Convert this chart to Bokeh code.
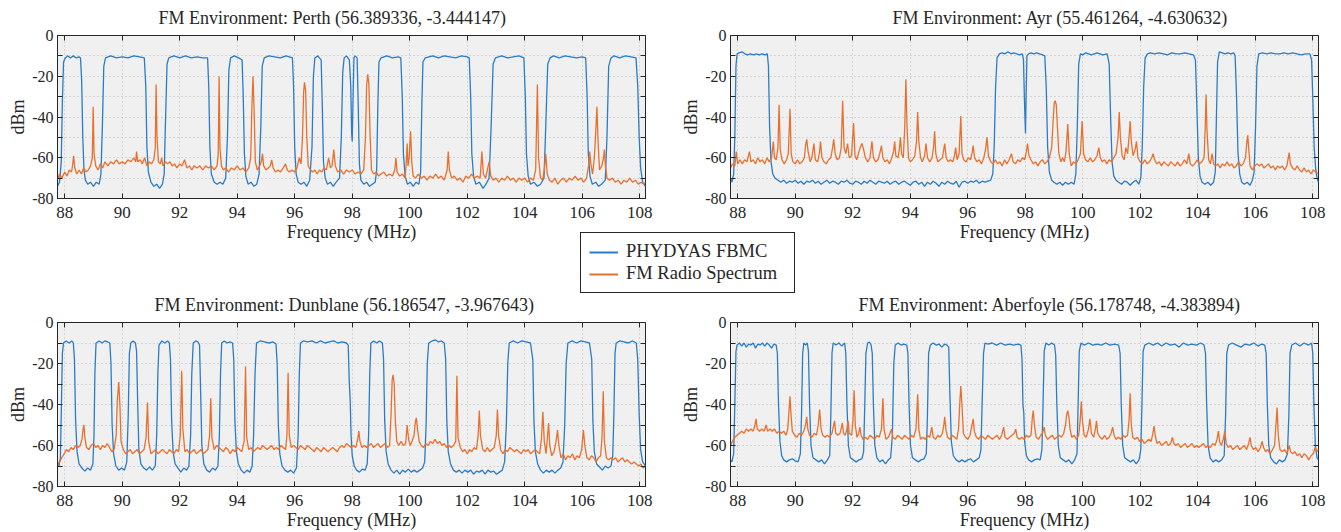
from bokeh.plotting import figure
from bokeh.models import (Range1d, FixedTicker, LinearAxis, Legend, LegendItem,
                          Title, GridBox)
from bokeh.embed import file_html
from bokeh.resources import INLINE

FONT = "Liberation Serif"
TXT = "#262626"
BLUE = "#2b7cc6"
ORANGE = "#e8702e"

freq_ticks = [88, 90, 92, 94, 96, 98, 100, 102, 104, 106, 108]
dbm_ticks = [-80, -60, -40, -20, 0]
dbm_minor = [-70, -50, -30, -10]
dbm_labels = {-80: "-80", -60: "-60", -40: "-40", -20: "-20", 0: "0"}
series_names = ["PHYDYAS FBMC", "FM Radio Spectrum"]
titles = ["FM Environment: Perth (56.389336, -3.444147)",
          "FM Environment: Ayr (55.461264, -4.630632)",
          "FM Environment: Dunblane (56.186547, -3.967643)",
          "FM Environment: Aberfoyle (56.178748, -4.383894)"]

# ---------------- Perth ----------------
perth_fbmc = [(87.75,-74),(87.82,-72),(87.88,-62),(87.92,-32),(87.96,-13),(88.02,-11),(88.1,-10),(88.2,-11),(88.3,-10),(88.4,-11),(88.5,-10.5),(88.55,-11),
(88.59,-22),(88.63,-50),(88.67,-66),(88.72,-71),(88.8,-73),(88.9,-72),(89.0,-74),(89.1,-72),(89.2,-73),(89.26,-68),(89.31,-45),(89.36,-15),(89.42,-11),
(89.6,-10),(89.8,-11),(90.0,-10.5),(90.2,-11),(90.4,-10),(90.6,-10.5),(90.77,-11),(90.82,-25),(90.86,-55),(90.91,-67),(91.0,-72),(91.1,-74),(91.2,-73),
(91.3,-75),(91.4,-73),(91.46,-68),(91.51,-40),(91.56,-14),(91.62,-11),(91.8,-10),(92.0,-11),(92.2,-10),(92.4,-11),(92.6,-10.5),(92.8,-11),(92.97,-11),
(93.01,-25),(93.05,-55),(93.1,-68),(93.2,-72),(93.3,-73),(93.4,-72),(93.5,-73),(93.6,-70),(93.66,-50),(93.71,-17),(93.77,-11),(93.9,-10),(94.05,-11),
(94.17,-12),(94.21,-30),(94.25,-58),(94.3,-69),(94.38,-73),(94.48,-72),(94.58,-74),(94.68,-73),(94.76,-68),(94.82,-45),(94.87,-15),(94.94,-11),(95.1,-10),
(95.3,-10.5),(95.5,-11),(95.7,-10),(95.92,-11),(95.96,-25),(96.0,-55),(96.05,-68),(96.12,-72),(96.22,-73),(96.32,-72),(96.42,-74),(96.52,-71),(96.6,-55),
(96.65,-20),(96.7,-11),(96.8,-10),(96.92,-12),(96.96,-35),(97.0,-62),(97.06,-70),(97.14,-73),(97.24,-72),(97.34,-74),(97.44,-72),(97.56,-70),(97.62,-50),
(97.67,-18),(97.72,-11),(97.8,-10),(97.9,-12),(97.95,-25),(97.98,-48),(98.0,-52),(98.03,-30),(98.06,-11),(98.1,-10),(98.17,-11),(98.21,-35),(98.25,-63),
(98.3,-71),(98.4,-73),(98.5,-72),(98.6,-74),(98.7,-73),(98.8,-72),(98.85,-66),(98.89,-35),(98.93,-13),(99.0,-11),(99.2,-10),(99.4,-11),(99.6,-10.5),
(99.69,-11),(99.74,-30),(99.78,-58),(99.84,-69),(99.92,-73),(100.02,-72),(100.12,-74),(100.22,-72),(100.32,-73),(100.38,-67),(100.42,-35),(100.46,-13),
(100.54,-11),(100.8,-10),(101.0,-11),(101.2,-10),(101.4,-10.5),(101.6,-11),(101.8,-10),(102.0,-10.5),(102.07,-11),(102.12,-30),(102.16,-58),(102.22,-69),
(102.3,-73),(102.42,-72),(102.55,-75),(102.65,-73),(102.76,-70),(102.83,-45),(102.9,-14),(102.98,-11),(103.2,-10),(103.4,-11),(103.6,-10.5),(103.8,-10),
(103.97,-11),(104.02,-30),(104.06,-58),(104.12,-69),(104.2,-73),(104.32,-72),(104.44,-74),(104.55,-73),(104.67,-70),(104.73,-45),(104.8,-14),(104.88,-11),
(105.0,-10),(105.2,-11),(105.4,-10),(105.6,-10.5),(105.8,-11),(106.0,-10.5),(106.12,-11),(106.17,-30),(106.21,-58),(106.27,-69),(106.35,-73),(106.47,-72),
(106.57,-74),(106.67,-73),(106.8,-71),(106.86,-50),(106.92,-15),(107.0,-11),(107.1,-10),(107.3,-11),(107.5,-10),(107.7,-10.5),(107.87,-11),(107.93,-25),
(107.98,-50),(108.03,-65),(108.1,-72),(108.2,-74)]

perth_fm = [(87.75,-71),(87.82,-68),(87.9,-70),(88.0,-67),(88.08,-69),(88.16,-66),(88.24,-67),(88.28,-63),(88.31,-59),(88.35,-65),(88.42,-68),(88.5,-66),
(88.58,-68),(88.66,-65),(88.74,-67),(88.82,-66),(88.9,-64),(88.96,-60),(88.99,-35),(89.02,-58),(89.08,-64),(89.16,-66),(89.24,-63),(89.32,-65),(89.4,-62),
(89.5,-64),(89.6,-62),(89.7,-63),(89.8,-61),(89.9,-63),(90.0,-62),(90.1,-63),(90.2,-61),(90.3,-62),(90.4,-60),(90.47,-62),(90.5,-57),(90.54,-62),(90.62,-61),
(90.7,-63),(90.78,-60),(90.86,-64),(90.94,-62),(91.02,-63),(91.1,-61),(91.15,-55),(91.18,-24),(91.21,-50),(91.26,-62),(91.33,-63),(91.37,-60),(91.42,-64),
(91.5,-62),(91.58,-63),(91.66,-62),(91.74,-64),(91.82,-63),(91.9,-65),(92.0,-63),(92.08,-64),(92.17,-61),(92.25,-65),(92.34,-64),(92.42,-66),(92.5,-64),
(92.6,-65),(92.7,-64),(92.8,-66),(92.9,-64),(93.0,-65),(93.1,-64),(93.2,-66),(93.3,-64),(93.34,-58),(93.37,-20),(93.4,-55),(93.45,-64),(93.52,-66),
(93.6,-65),(93.7,-67),(93.8,-65),(93.9,-66),(94.0,-64),(94.1,-66),(94.2,-65),(94.3,-67),(94.4,-65),(94.47,-60),(94.51,-35),(94.55,-20),(94.59,-38),
(94.63,-62),(94.7,-66),(94.78,-64),(94.84,-62),(94.88,-58),(94.92,-64),(95.0,-66),(95.08,-65),(95.15,-64),(95.2,-61),(95.25,-65),(95.33,-67),(95.42,-66),
(95.5,-67),(95.6,-65),(95.68,-63),(95.74,-66),(95.82,-67),(95.9,-66),(96.0,-67),(96.08,-65),(96.16,-60),(96.22,-63),(96.27,-50),(96.31,-28),(96.34,-23),
(96.38,-27),(96.42,-50),(96.47,-64),(96.55,-66),(96.62,-67),(96.7,-66),(96.78,-68),(96.86,-66),(96.94,-67),(97.02,-65),(97.1,-66),(97.18,-60),(97.24,-65),
(97.3,-64),(97.36,-56),(97.41,-64),(97.5,-67),(97.6,-66),(97.7,-68),(97.8,-66),(97.9,-67),(98.0,-66),(98.1,-68),(98.2,-67),(98.3,-68),(98.4,-66),
(98.46,-50),(98.5,-25),(98.54,-19),(98.58,-24),(98.62,-48),(98.67,-66),(98.75,-68),(98.84,-67),(98.92,-69),(99.0,-68),(99.1,-67),(99.2,-69),(99.3,-68),
(99.4,-69),(99.48,-66),(99.52,-60),(99.56,-67),(99.65,-69),(99.75,-68),(99.84,-70),(99.88,-62),(99.91,-53),(99.94,-64),(99.98,-60),(100.03,-47),
(100.07,-62),(100.12,-69),(100.2,-70),(100.3,-68),(100.4,-70),(100.5,-69),(100.6,-71),(100.7,-69),(100.8,-70),(100.9,-68),(101.0,-70),(101.1,-69),
(101.2,-71),(101.3,-66),(101.34,-57),(101.38,-66),(101.46,-70),(101.55,-69),(101.65,-71),(101.75,-70),(101.85,-72),(101.95,-69),(102.05,-70),(102.15,-68),
(102.25,-70),(102.35,-69),(102.45,-70),(102.51,-57),(102.56,-68),(102.64,-70),(102.7,-66),(102.76,-62),(102.82,-69),(102.9,-71),(103.0,-70),(103.1,-72),
(103.2,-70),(103.3,-71),(103.4,-69),(103.5,-71),(103.6,-70),(103.7,-72),(103.8,-70),(103.9,-71),(104.0,-70),(104.1,-72),(104.2,-70),(104.3,-71),
(104.38,-66),(104.44,-24),(104.48,-60),(104.55,-70),(104.62,-71),(104.68,-66),(104.73,-58),(104.78,-68),(104.86,-71),(104.95,-72),(105.05,-70),
(105.15,-73),(105.25,-71),(105.35,-70),(105.45,-72),(105.55,-70),(105.65,-71),(105.75,-69),(105.85,-71),(105.95,-70),(106.05,-72),(106.15,-70),
(106.22,-64),(106.26,-57),(106.3,-63),(106.36,-68),(106.42,-60),(106.46,-50),(106.51,-35),(106.55,-52),(106.6,-66),(106.68,-64),(106.74,-60),(106.77,-56),
(106.8,-63),(106.86,-70),(106.95,-71),(107.05,-70),(107.15,-72),(107.25,-71),(107.35,-73),(107.45,-71),(107.55,-72),(107.65,-70),(107.75,-72),
(107.85,-71),(107.95,-73),(108.05,-72),(108.15,-73),(108.2,-72)]

# ---------------- Ayr ----------------
ayr_fbmc = [(87.75,-70),(87.8,-72),(87.86,-68),(87.9,-50),(87.94,-15),(87.98,-9),(88.05,-8.5),(88.15,-8),(88.25,-9),(88.35,-9.5),(88.45,-9),(88.55,-9.5),
(88.65,-9),(88.75,-9.5),(88.85,-9),(88.95,-9.5),(89.03,-9),(89.07,-15),(89.11,-45),(89.16,-62),(89.22,-68),(89.3,-70),(89.4,-71),(89.5,-72),(89.6,-71),
(89.7,-72.5),(89.8,-71.5),(89.9,-72),(90.0,-71),(90.1,-72.5),(90.2,-71.5),(90.3,-73),(90.4,-71.5),(90.5,-72),(90.6,-71),(90.7,-72.5),(90.8,-71.5),
(90.9,-73),(91.0,-72),(91.1,-71),(91.2,-72.5),(91.3,-71.5),(91.4,-72),(91.5,-73),(91.6,-71.5),(91.7,-72),(91.8,-71),(91.9,-72.5),(92.0,-73),(92.1,-71.5),
(92.2,-72),(92.3,-73),(92.4,-71.5),(92.5,-72.5),(92.6,-71),(92.7,-72),(92.8,-73),(92.9,-71.5),(93.0,-72),(93.1,-72.5),(93.2,-71.5),(93.3,-73),(93.4,-72),
(93.5,-71.5),(93.6,-73),(93.7,-72),(93.8,-71.5),(93.9,-72.5),(94.0,-73.5),(94.1,-72),(94.2,-71.5),(94.3,-73),(94.4,-72),(94.5,-74),(94.6,-72),(94.7,-73),
(94.8,-71.5),(94.9,-72.5),(95.0,-74),(95.1,-72),(95.2,-73),(95.3,-71.5),(95.4,-72.5),(95.5,-73),(95.6,-71.5),(95.7,-74.5),(95.8,-72),(95.9,-71.5),
(96.0,-72.5),(96.1,-71.5),(96.2,-72),(96.3,-71),(96.4,-72.5),(96.5,-71.5),(96.6,-72),(96.7,-71.5),(96.8,-71),(96.87,-68),(96.92,-55),(96.97,-25),
(97.02,-11),(97.1,-9),(97.2,-8.5),(97.3,-9),(97.4,-8),(97.5,-9),(97.6,-8.5),(97.7,-9),(97.8,-9.5),(97.9,-9),(97.94,-12),(97.97,-30),(97.99,-40),
(98.01,-48),(98.03,-30),(98.06,-10),(98.12,-9),(98.2,-8.5),(98.3,-9),(98.4,-8.5),(98.5,-9),(98.6,-9.5),(98.68,-10),(98.73,-25),(98.78,-55),(98.84,-67),
(98.92,-71),(99.0,-72),(99.1,-73),(99.2,-72),(99.3,-73.5),(99.4,-72),(99.5,-73),(99.6,-72),(99.7,-73),(99.76,-68),(99.81,-45),(99.86,-14),(99.92,-9),
(100.0,-9.5),(100.1,-8.5),(100.2,-9),(100.3,-9.5),(100.4,-9),(100.5,-8.5),(100.6,-9),(100.7,-9.5),(100.85,-9),(100.92,-14),(100.97,-40),(101.02,-62),
(101.08,-69),(101.16,-71),(101.25,-72),(101.35,-73),(101.45,-71.5),(101.55,-72),(101.65,-73.5),(101.75,-72),(101.85,-71),(101.95,-73),(102.02,-70),
(102.07,-55),(102.12,-25),(102.17,-11),(102.25,-9),(102.35,-8.5),(102.5,-9),(102.65,-8.5),(102.8,-9),(102.95,-9.5),(103.1,-8.5),(103.25,-9),(103.4,-9),
(103.55,-8.5),(103.7,-9),(103.85,-9.5),(103.92,-12),(103.97,-35),(104.02,-60),(104.08,-69),(104.15,-72),(104.25,-73),(104.35,-72),(104.45,-73.5),
(104.55,-72),(104.61,-67),(104.65,-40),(104.69,-13),(104.75,-8),(104.85,-8.5),(104.95,-9),(105.05,-8.5),(105.15,-9),(105.25,-8.5),(105.3,-10),(105.35,-30),
(105.4,-58),(105.46,-68),(105.53,-72),(105.62,-73),(105.72,-72),(105.82,-73.5),(105.9,-71),(105.96,-67),(106.01,-45),(106.06,-15),(106.12,-9),(106.25,-8.5),
(106.4,-9),(106.55,-8.5),(106.7,-9),(106.85,-9),(107.0,-8.5),(107.15,-9),(107.3,-8.5),(107.45,-9),(107.6,-9.5),(107.75,-9),(107.9,-9),(107.96,-12),
(108.0,-30),(108.05,-55),(108.1,-65),(108.15,-70),(108.2,-72)]

ayr_fm = [(87.75,-65),(87.82,-63),(87.9,-64),(87.95,-57),(88.0,-63),(88.08,-61),(88.16,-63),(88.24,-61),(88.32,-62),(88.41,-57),(88.46,-62),(88.54,-61),
(88.62,-63),(88.7,-60),(88.78,-62),(88.86,-61),(88.94,-63),(89.02,-60),(89.1,-62),(89.18,-60),(89.24,-52),(89.28,-60),(89.34,-61),(89.4,-55),(89.44,-34),
(89.48,-56),(89.54,-61),(89.62,-63),(89.7,-61),(89.76,-58),(89.82,-36),(89.86,-58),(89.92,-62),(90.0,-63),(90.08,-61),(90.16,-63),(90.24,-62),(90.32,-60),
(90.36,-54),(90.4,-51),(90.45,-57),(90.52,-62),(90.58,-60),(90.65,-53),(90.7,-61),(90.78,-62),(90.84,-58),(90.88,-52),(90.93,-60),(91.0,-62),(91.08,-63),
(91.16,-61),(91.24,-60),(91.3,-55),(91.34,-51),(91.39,-58),(91.46,-61),(91.54,-60),(91.6,-55),(91.65,-32),(91.7,-55),(91.76,-58),(91.82,-53),(91.88,-60),
(91.96,-59),(92.03,-43),(92.08,-59),(92.14,-61),(92.2,-58),(92.26,-55),(92.32,-53),(92.38,-56),(92.44,-60),(92.52,-62),(92.6,-60),(92.67,-52),(92.72,-60),
(92.8,-62),(92.88,-61),(92.94,-58),(93.0,-54),(93.05,-60),(93.12,-62),(93.2,-61),(93.28,-63),(93.36,-60),(93.42,-57),(93.46,-52),(93.5,-59),(93.58,-60),
(93.62,-56),(93.66,-50),(93.7,-58),(93.76,-60),(93.81,-45),(93.85,-21.5),(93.89,-45),(93.94,-60),(94.0,-62),(94.08,-61),(94.16,-59),(94.22,-52),
(94.26,-37.5),(94.3,-52),(94.36,-60),(94.42,-62),(94.5,-59),(94.55,-53),(94.6,-60),(94.68,-62),(94.76,-60),(94.81,-55),(94.85,-47),(94.89,-58),(94.96,-62),
(95.04,-61),(95.12,-60),(95.2,-53),(95.25,-60),(95.32,-62),(95.4,-61),(95.48,-62),(95.54,-59),(95.58,-55),(95.63,-61),(95.7,-58),(95.76,-39.5),(95.8,-58),
(95.86,-61),(95.94,-62),(96.02,-60),(96.1,-61),(96.16,-57),(96.19,-54),(96.24,-60),(96.32,-62),(96.4,-61),(96.48,-63),(96.56,-60),(96.62,-56),(96.67,-50),
(96.72,-59),(96.8,-62),(96.88,-63),(96.96,-61),(97.04,-63),(97.12,-62),(97.2,-64),(97.28,-61),(97.36,-63),(97.44,-61),(97.52,-58),(97.58,-62),(97.66,-63),
(97.74,-61),(97.82,-62),(97.9,-60),(97.98,-61),(98.04,-57),(98.08,-53),(98.13,-59),(98.2,-61),(98.28,-63),(98.36,-62),(98.44,-64),(98.52,-62),(98.6,-61),
(98.68,-63),(98.76,-62),(98.84,-60),(98.92,-55),(98.97,-42),(99.01,-33),(99.04,-32),(99.08,-34),(99.12,-45),(99.17,-58),(99.24,-62),(99.3,-60),(99.36,-62),
(99.42,-57),(99.48,-43.5),(99.53,-58),(99.6,-64),(99.68,-62),(99.76,-63),(99.84,-61),(99.92,-58),(99.98,-42),(100.03,-58),(100.1,-61),(100.18,-62),
(100.26,-60),(100.34,-62),(100.42,-61),(100.5,-59),(100.56,-55),(100.61,-60),(100.68,-62),(100.76,-61),(100.84,-63),(100.92,-61),(101.0,-62),(101.08,-60),
(101.16,-58),(101.23,-50),(101.27,-37.5),(101.31,-50),(101.37,-59),(101.44,-61),(101.5,-55),(101.56,-58),(101.61,-50),(101.65,-42),(101.69,-52),
(101.75,-59),(101.82,-56),(101.87,-52),(101.92,-60),(102.0,-62),(102.08,-63),(102.16,-61),(102.24,-63),(102.32,-62),(102.4,-60),(102.45,-58),(102.5,-61),
(102.58,-63),(102.66,-62),(102.74,-64),(102.82,-62),(102.9,-63),(102.98,-64),(103.06,-62),(103.14,-63),(103.22,-64),(103.3,-62),(103.38,-64),(103.46,-63),
(103.54,-61),(103.62,-63),(103.69,-58),(103.74,-63),(103.82,-64),(103.9,-63),(103.98,-61),(104.06,-63),(104.14,-62),(104.22,-60),(104.26,-45),(104.29,-29),
(104.32,-46),(104.38,-61),(104.44,-63),(104.5,-58),(104.55,-63),(104.62,-64),(104.7,-63),(104.78,-65),(104.86,-63),(104.94,-64),(105.02,-62),(105.1,-64),
(105.18,-63),(105.26,-65),(105.34,-64),(105.42,-62),(105.5,-64),(105.58,-63),(105.66,-60),(105.71,-52),(105.74,-49),(105.77,-55),(105.82,-64),(105.9,-66),
(105.98,-64),(106.06,-63),(106.14,-64),(106.22,-63),(106.3,-65),(106.38,-64),(106.46,-63),(106.54,-65),(106.62,-64),(106.7,-66),(106.78,-64),(106.86,-65),
(106.94,-64),(107.02,-66),(107.1,-64),(107.18,-57.5),(107.22,-63),(107.3,-65),(107.38,-66),(107.46,-64),(107.54,-66),(107.62,-67),(107.7,-65),(107.78,-67),
(107.86,-66),(107.94,-68),(108.02,-66),(108.1,-67),(108.2,-68)]

# ---------------- Dunblane ----------------
dunblane_fbmc = [(87.75,-68),(87.8,-70),(87.85,-66),(87.88,-45),(87.92,-15),(87.96,-10),(88.05,-9),(88.15,-10),(88.25,-9),(88.3,-10),(88.34,-18),(88.38,-48),
(88.43,-63),(88.5,-69),(88.6,-71),(88.7,-72.5),(88.8,-71),(88.9,-72),(88.98,-69),(89.02,-55),(89.05,-25),(89.09,-10),(89.2,-9),(89.3,-10),(89.4,-9),
(89.5,-9.5),(89.57,-10),(89.61,-20),(89.65,-50),(89.7,-64),(89.78,-70),(89.88,-72),(89.98,-71),(90.08,-72),(90.16,-68),(90.21,-45),(90.25,-15),(90.3,-10),
(90.38,-9),(90.46,-10),(90.5,-14),(90.54,-40),(90.58,-62),(90.65,-69),(90.75,-71),(90.85,-72),(90.95,-70.5),(91.05,-72),(91.15,-70),(91.2,-55),(91.24,-25),
(91.28,-11),(91.38,-9),(91.48,-10),(91.58,-9),(91.64,-10),(91.68,-18),(91.72,-48),(91.77,-63),(91.84,-69),(91.94,-71),(92.04,-73),(92.14,-71),(92.24,-72),
(92.32,-70),(92.38,-55),(92.42,-25),(92.47,-10),(92.56,-9),(92.64,-9.5),(92.69,-11),(92.73,-35),(92.77,-60),(92.84,-69),(92.94,-72),(93.04,-73),(93.14,-71),
(93.24,-72),(93.33,-70),(93.38,-55),(93.42,-25),(93.46,-10),(93.55,-9),(93.65,-10),(93.75,-9.5),(93.84,-10),(93.88,-18),(93.92,-48),(93.97,-63),(94.04,-69),
(94.14,-72),(94.24,-73.5),(94.34,-72),(94.44,-73),(94.52,-70),(94.57,-55),(94.62,-25),(94.67,-10),(94.8,-9),(94.95,-9.5),(95.1,-10),(95.25,-9.5),
(95.35,-10.5),(95.39,-20),(95.43,-50),(95.48,-64),(95.56,-70),(95.66,-72),(95.76,-73),(95.86,-72),(95.96,-73.5),(96.06,-71),(96.12,-55),(96.16,-25),
(96.2,-10),(96.3,-9),(96.45,-9.5),(96.6,-9),(96.75,-10),(96.9,-9),(97.05,-10),(97.2,-9.5),(97.35,-9),(97.5,-10),(97.65,-9.5),(97.8,-10),(97.86,-11),
(97.9,-30),(97.93,-38),(97.96,-55),(98.0,-65),(98.07,-70),(98.15,-72),(98.25,-73),(98.35,-71.5),(98.45,-72),(98.52,-69),(98.57,-55),(98.61,-25),(98.65,-10),
(98.75,-9),(98.85,-10),(98.95,-9),(99.05,-10),(99.09,-18),(99.13,-48),(99.18,-63),(99.25,-69),(99.35,-72),(99.45,-73.5),(99.55,-72),(99.65,-74),(99.75,-72),
(99.85,-73),(99.95,-71.5),(100.05,-73),(100.15,-72),(100.25,-73),(100.35,-72),(100.45,-71),(100.52,-68),(100.57,-50),(100.61,-20),(100.66,-10),(100.78,-9),
(100.9,-8.5),(101.0,-9.5),(101.1,-9),(101.2,-10),(101.25,-18),(101.29,-48),(101.34,-63),(101.42,-69),(101.52,-72),(101.62,-73),(101.72,-72),(101.82,-73.5),
(101.92,-72),(102.02,-73),(102.12,-72),(102.22,-74),(102.32,-72.5),(102.42,-73),(102.52,-72),(102.62,-74),(102.72,-72),(102.82,-73),(102.92,-72.5),
(103.02,-74),(103.12,-73),(103.22,-72),(103.3,-68),(103.36,-50),(103.41,-20),(103.46,-10),(103.6,-9),(103.75,-10),(103.9,-9),(104.05,-9.5),(104.2,-10),
(104.28,-18),(104.32,-48),(104.37,-63),(104.45,-69),(104.55,-72),(104.65,-73.5),(104.75,-72),(104.85,-73),(104.95,-72),(105.05,-73.5),(105.15,-72),
(105.25,-71),(105.33,-68),(105.39,-50),(105.44,-20),(105.5,-10),(105.65,-9),(105.8,-10),(105.95,-9),(106.1,-9.5),(106.25,-10),(106.33,-18),(106.37,-48),
(106.42,-63),(106.5,-69),(106.6,-70.5),(106.7,-72),(106.8,-70),(106.9,-71),(107.0,-70),(107.06,-65),(107.1,-45),(107.14,-15),(107.18,-10),(107.3,-9),
(107.45,-9.5),(107.6,-10),(107.75,-9),(107.88,-10),(107.93,-18),(107.98,-45),(108.03,-62),(108.1,-68),(108.2,-70)]

dunblane_fm = [(87.75,-70),(87.82,-68),(87.9,-66),(87.98,-64),(88.06,-62),(88.14,-63),(88.22,-61),(88.3,-62),(88.38,-60),(88.46,-61),(88.54,-60),(88.6,-57),
(88.64,-52),(88.67,-50),(88.7,-56),(88.76,-61),(88.84,-62),(88.92,-60),(89.0,-59),(89.08,-61),(89.16,-60),(89.24,-62),(89.32,-60),(89.4,-61),(89.48,-59),
(89.56,-61),(89.64,-63),(89.72,-62),(89.79,-55),(89.83,-38),(89.88,-29),(89.92,-40),(89.96,-58),(90.04,-62),(90.12,-64),(90.2,-63),(90.28,-62),(90.36,-64),
(90.44,-63),(90.52,-62),(90.6,-64),(90.68,-63),(90.76,-62),(90.83,-56),(90.88,-39),(90.92,-58),(91.0,-64),(91.08,-63),(91.16,-62),(91.24,-64),(91.32,-63),
(91.4,-62),(91.48,-63),(91.56,-64),(91.64,-62),(91.72,-63),(91.8,-64),(91.88,-62),(91.96,-63),(92.02,-55),(92.07,-23.5),(92.11,-52),(92.18,-63),(92.26,-62),
(92.34,-64),(92.42,-63),(92.5,-62),(92.58,-64),(92.66,-63),(92.74,-62),(92.82,-64),(92.9,-63),(92.98,-62),(93.04,-55),(93.08,-37),(93.12,-56),(93.2,-62),
(93.28,-60),(93.36,-61),(93.44,-62),(93.52,-63),(93.6,-61),(93.68,-62),(93.76,-64),(93.84,-62),(93.92,-63),(94.0,-61),(94.08,-62),(94.16,-63),(94.24,-58),
(94.29,-21.5),(94.33,-56),(94.4,-62),(94.48,-61),(94.56,-63),(94.64,-62),(94.72,-61),(94.8,-62),(94.88,-60),(94.96,-61),(95.04,-62),(95.12,-61),(95.2,-60),
(95.28,-62),(95.36,-61),(95.44,-62),(95.52,-60),(95.6,-61),(95.68,-62),(95.73,-55),(95.77,-24.5),(95.81,-55),(95.88,-61),(95.96,-60),(96.04,-61),(96.12,-62),
(96.2,-60),(96.28,-61),(96.36,-62),(96.44,-60),(96.52,-61),(96.6,-62),(96.68,-63),(96.76,-61),(96.84,-62),(96.92,-63),(97.0,-61),(97.08,-62),(97.16,-63),
(97.24,-62),(97.32,-61),(97.4,-62),(97.48,-63),(97.56,-61),(97.64,-60),(97.72,-61),(97.8,-59),(97.88,-60),(97.96,-61),(98.04,-60),(98.12,-61),(98.19,-57),
(98.23,-53),(98.27,-58),(98.34,-61),(98.42,-60),(98.5,-61),(98.58,-60),(98.66,-59),(98.74,-61),(98.82,-60),(98.9,-59),(98.98,-61),(99.06,-60),(99.14,-59),
(99.22,-61),(99.3,-60),(99.35,-45),(99.39,-28),(99.42,-25.5),(99.46,-30),(99.5,-48),(99.55,-58),(99.62,-60),(99.7,-58),(99.78,-60),(99.86,-59),(99.91,-50),
(99.96,-57),(100.02,-60),(100.08,-58),(100.15,-55),(100.2,-48),(100.23,-46.5),(100.27,-52),(100.33,-58),(100.4,-60),(100.48,-61),(100.56,-59),(100.64,-60),
(100.72,-58),(100.8,-59),(100.88,-57),(100.96,-59),(101.04,-58),(101.12,-60),(101.2,-59),(101.28,-61),(101.36,-60),(101.44,-61),(101.52,-60),(101.6,-58),
(101.64,-26),(101.68,-56),(101.76,-61),(101.84,-63),(101.92,-62),(102.0,-64),(102.08,-62),(102.16,-63),(102.24,-61),(102.32,-62),(102.38,-55),(102.42,-43),
(102.46,-55),(102.54,-62),(102.62,-63),(102.7,-61),(102.78,-63),(102.86,-62),(102.94,-61),(103.01,-55),(103.05,-42.5),(103.09,-55),(103.16,-62),(103.24,-64),
(103.32,-62),(103.4,-63),(103.48,-61),(103.56,-62),(103.64,-63),(103.72,-62),(103.8,-63),(103.88,-64),(103.96,-62),(104.04,-63),(104.12,-62),(104.2,-64),
(104.28,-63),(104.36,-62),(104.44,-63),(104.52,-64),(104.58,-57),(104.63,-43.5),(104.68,-58),(104.74,-64),(104.79,-56),(104.83,-49),(104.87,-60),
(104.94,-65),(105.02,-63),(105.09,-58),(105.14,-52.5),(105.19,-60),(105.26,-66),(105.34,-64),(105.42,-67),(105.5,-65),(105.58,-66),(105.66,-64),
(105.74,-67),(105.82,-65),(105.9,-66),(105.98,-62),(106.04,-52.5),(106.09,-60),(106.16,-66),(106.24,-67),(106.32,-65),(106.4,-66),(106.48,-68),(106.56,-66),
(106.64,-65),(106.69,-55),(106.73,-33.5),(106.77,-58),(106.84,-66),(106.92,-67),(107.0,-66),(107.08,-67),(107.16,-66),(107.24,-68),(107.32,-67),(107.4,-66),
(107.48,-68),(107.56,-67),(107.64,-68),(107.72,-69),(107.8,-68),(107.88,-69),(107.96,-70),(108.04,-69),(108.12,-71),(108.2,-70)]

# ---------------- Aberfoyle ----------------
aberfoyle_fbmc = [(87.75,-67),(87.8,-68),(87.86,-64),(87.9,-40),(87.94,-14),(87.98,-11),(88.06,-10),(88.14,-11.5),(88.22,-10),(88.3,-12),(88.38,-10.5),
(88.46,-11),(88.54,-10),(88.62,-12.5),(88.7,-10.5),(88.78,-11),(88.86,-10),(88.94,-11.5),(89.02,-10),(89.1,-11),(89.18,-12.5),(89.26,-10.5),(89.34,-11),
(89.38,-15),(89.42,-40),(89.47,-58),(89.53,-65),(89.6,-67),(89.7,-68),(89.8,-67),(89.9,-66.5),(90.0,-67.5),(90.1,-68),(90.18,-64),(90.22,-45),(90.26,-15),
(90.3,-10),(90.36,-11),(90.42,-10),(90.46,-14),(90.5,-40),(90.55,-60),(90.62,-66),(90.72,-67),(90.82,-68),(90.92,-67),(91.02,-69),(91.12,-67),(91.2,-65),
(91.24,-45),(91.28,-15),(91.32,-10),(91.42,-11),(91.52,-10),(91.62,-11.5),(91.72,-10),(91.76,-15),(91.8,-40),(91.85,-60),(91.92,-66),(92.02,-67),(92.12,-68),
(92.22,-67),(92.32,-66.5),(92.38,-63),(92.42,-40),(92.46,-15),(92.52,-10),(92.58,-9.5),(92.64,-11),(92.68,-15),(92.72,-40),(92.77,-60),(92.84,-66),
(92.94,-68),(93.04,-67),(93.14,-69),(93.24,-67),(93.32,-66),(93.38,-55),(93.43,-20),(93.48,-11),(93.58,-10),(93.68,-11),(93.78,-10.5),(93.88,-11),
(93.92,-15),(93.96,-40),(94.01,-60),(94.08,-66),(94.18,-67),(94.28,-68),(94.38,-67),(94.48,-66.5),(94.56,-64),(94.6,-45),(94.64,-15),(94.7,-11),(94.8,-10),
(94.9,-11),(95.0,-10.5),(95.1,-12),(95.2,-10.5),(95.28,-11),(95.34,-12),(95.38,-35),(95.43,-58),(95.5,-65),(95.6,-67),(95.7,-68),(95.8,-67),(95.9,-68),
(96.0,-67),(96.1,-66.5),(96.2,-68),(96.3,-67),(96.4,-66),(96.46,-62),(96.5,-40),(96.55,-15),(96.6,-10),(96.7,-10.5),(96.85,-10),(97.0,-11),(97.15,-10),
(97.3,-11),(97.45,-10.5),(97.6,-11),(97.75,-10.5),(97.85,-11),(97.89,-18),(97.92,-40),(97.95,-44),(97.98,-58),(98.04,-65),(98.12,-67),(98.22,-68),(98.32,-67),
(98.42,-66.5),(98.52,-67),(98.58,-62),(98.62,-40),(98.66,-14),(98.72,-10),(98.82,-11),(98.92,-10),(99.02,-11),(99.06,-16),(99.1,-40),(99.15,-60),(99.22,-66),
(99.32,-67),(99.42,-68),(99.52,-67),(99.62,-69),(99.72,-67),(99.8,-64),(99.84,-40),(99.88,-14),(99.94,-10),(100.05,-11),(100.2,-10),(100.35,-11),
(100.5,-10.5),(100.65,-11),(100.8,-10),(100.95,-11),(101.1,-10.5),(101.25,-11),(101.3,-15),(101.34,-40),(101.39,-60),(101.46,-66),(101.56,-67),(101.66,-68),
(101.76,-67),(101.86,-69),(101.96,-67),(102.02,-62),(102.06,-40),(102.1,-14),(102.16,-11),(102.3,-10),(102.45,-11),(102.6,-10),(102.75,-11.5),(102.9,-10),
(103.05,-11),(103.2,-10.5),(103.35,-12),(103.5,-10),(103.65,-11),(103.8,-10.5),(103.95,-11),(104.1,-10),(104.22,-11),(104.27,-15),(104.31,-40),(104.36,-60),
(104.43,-66),(104.53,-68),(104.63,-67),(104.73,-68),(104.83,-67),(104.92,-65),(104.97,-45),(105.01,-15),(105.07,-11),(105.2,-10),(105.35,-11),(105.5,-12),
(105.65,-10.5),(105.8,-11),(105.95,-10),(106.1,-11.5),(106.22,-10.5),(106.33,-11),(106.38,-15),(106.42,-40),(106.47,-60),(106.54,-66),(106.64,-68),
(106.74,-69),(106.84,-67),(106.94,-68),(107.04,-67),(107.12,-64),(107.17,-45),(107.21,-15),(107.27,-11),(107.4,-10),(107.55,-11.5),(107.7,-10),(107.85,-11),
(107.96,-10),(108.0,-15),(108.04,-40),(108.09,-60),(108.15,-66),(108.2,-67)]

aberfoyle_fm = [(87.75,-60),(87.82,-58),(87.9,-56),(87.98,-55),(88.06,-54),(88.14,-53),(88.22,-54),(88.3,-52),(88.38,-53),(88.46,-52),(88.54,-53),(88.6,-50),
(88.64,-47),(88.68,-52),(88.76,-53),(88.84,-52),(88.92,-53),(88.99,-50),(89.04,-53),(89.12,-52),(89.2,-53),(89.28,-52),(89.36,-54),(89.44,-53),(89.52,-54),
(89.6,-53),(89.68,-55),(89.74,-52),(89.79,-42),(89.82,-36),(89.85,-44),(89.9,-53),(89.98,-55),(90.06,-56),(90.14,-54),(90.22,-55),(90.3,-53),(90.36,-50),
(90.4,-46),(90.44,-52),(90.5,-55),(90.58,-56),(90.66,-54),(90.74,-55),(90.8,-50),(90.85,-42.5),(90.9,-52),(90.96,-55),(91.04,-56),(91.12,-55),(91.2,-56),
(91.28,-54),(91.34,-50),(91.37,-48),(91.41,-54),(91.48,-55),(91.56,-54),(91.61,-51),(91.64,-49),(91.68,-54),(91.74,-55),(91.8,-52),(91.84,-48),(91.88,-54),
(91.96,-55),(92.01,-48),(92.05,-33),(92.09,-50),(92.15,-56),(92.21,-54),(92.25,-51),(92.29,-55),(92.36,-57),(92.44,-56),(92.52,-57),(92.6,-55),(92.68,-56),
(92.76,-57),(92.84,-55),(92.92,-56),(93.0,-52),(93.05,-37),(93.09,-52),(93.16,-57),(93.24,-56),(93.3,-54),(93.35,-52),(93.4,-56),(93.48,-57),(93.56,-55),
(93.64,-56),(93.72,-57),(93.8,-55),(93.88,-56),(93.96,-57),(94.04,-55),(94.12,-56),(94.2,-52),(94.26,-35),(94.3,-52),(94.36,-57),(94.44,-56),(94.52,-57),
(94.6,-55),(94.68,-56),(94.75,-51),(94.8,-56),(94.88,-57),(94.96,-55),(95.04,-56),(95.12,-54),(95.17,-50),(95.2,-46),(95.24,-52),(95.3,-56),(95.38,-57),
(95.46,-55),(95.54,-56),(95.62,-57),(95.68,-52),(95.73,-38),(95.76,-31),(95.8,-40),(95.85,-54),(95.92,-56),(96.0,-57),(96.08,-55),(96.15,-50),(96.19,-47),
(96.23,-53),(96.3,-56),(96.38,-57),(96.46,-55),(96.54,-56),(96.62,-57),(96.7,-55),(96.78,-56),(96.86,-57),(96.94,-56),(97.02,-55),(97.1,-57),(97.18,-55),
(97.25,-51),(97.3,-56),(97.38,-57),(97.46,-56),(97.54,-55),(97.62,-54),(97.67,-52),(97.72,-56),(97.8,-57),(97.88,-56),(97.96,-57),(98.04,-55),(98.12,-56),
(98.2,-55),(98.25,-46),(98.28,-43),(98.32,-50),(98.38,-56),(98.46,-57),(98.54,-55),(98.6,-54),(98.66,-51),(98.7,-55),(98.78,-57),(98.86,-56),(98.94,-55),
(99.02,-57),(99.1,-56),(99.18,-55),(99.26,-56),(99.34,-54),(99.4,-50),(99.44,-45),(99.48,-43),(99.52,-46),(99.56,-52),(99.62,-56),(99.7,-55),(99.78,-57),
(99.86,-55),(99.91,-48),(99.95,-38.5),(99.99,-48),(100.05,-55),(100.12,-56),(100.2,-52),(100.25,-47),(100.3,-54),(100.38,-56),(100.44,-52),(100.48,-48),
(100.52,-54),(100.6,-56),(100.68,-57),(100.76,-55),(100.84,-57),(100.92,-56),(100.99,-54),(101.04,-51),(101.09,-55),(101.16,-57),(101.24,-56),(101.32,-57),
(101.4,-55),(101.48,-56),(101.56,-55),(101.61,-48),(101.65,-34.5),(101.69,-50),(101.74,-56),(101.82,-57),(101.9,-56),(101.98,-58),(102.06,-57),(102.14,-59),
(102.22,-58),(102.3,-57),(102.38,-58),(102.44,-54),(102.48,-50.5),(102.52,-55),(102.58,-59),(102.66,-58),(102.74,-60),(102.82,-59),(102.9,-58),(102.98,-60),
(103.06,-59),(103.12,-56),(103.17,-59),(103.24,-60),(103.32,-59),(103.4,-61),(103.48,-60),(103.56,-59),(103.64,-61),(103.72,-60),(103.8,-59),(103.88,-61),
(103.96,-60),(104.04,-61),(104.12,-60),(104.2,-59),(104.28,-61),(104.36,-60),(104.44,-61),(104.52,-59),(104.6,-60),(104.67,-57),(104.72,-53),(104.76,-58),
(104.82,-60),(104.89,-57),(104.94,-53),(104.99,-59),(105.06,-61),(105.14,-60),(105.22,-62),(105.3,-61),(105.38,-60),(105.46,-62),(105.54,-61),(105.62,-60),
(105.7,-62),(105.77,-59),(105.82,-56),(105.86,-60),(105.94,-62),(106.02,-61),(106.1,-63),(106.18,-61),(106.24,-58),(106.29,-61),(106.36,-63),(106.44,-62),
(106.52,-64),(106.6,-62),(106.67,-60),(106.72,-50),(106.76,-41.5),(106.8,-55),(106.86,-62),(106.94,-63),(107.02,-62),(107.1,-64),(107.18,-60),(107.23,-63),
(107.3,-64),(107.38,-63),(107.46,-65),(107.54,-64),(107.62,-66),(107.7,-64),(107.78,-65),(107.86,-67),(107.94,-65),(108.02,-64),(108.08,-61),(108.14,-63),
(108.2,-62)]


def style_axis(ax):
    ax.axis_line_color = TXT
    ax.axis_line_width = 1
    ax.major_tick_line_color = TXT
    ax.minor_tick_line_color = TXT
    ax.major_tick_in = 5
    ax.major_tick_out = 0
    ax.minor_tick_in = 5
    ax.minor_tick_out = 0
    ax.major_label_text_font = FONT
    ax.major_label_text_font_size = "16px"
    ax.major_label_text_color = TXT
    ax.axis_label_text_font = FONT
    ax.axis_label_text_font_style = "normal"
    ax.axis_label_text_color = TXT


def box_axis(ticker):
    ax = LinearAxis(ticker=ticker)
    style_axis(ax)
    ax.axis_line_color = None
    ax.major_label_text_color = None
    ax.major_label_text_alpha = 0
    ax.major_label_standoff = 0
    return ax


def make_panel(title, title_offset, fbmc, fm, width, height, left, right, top, bottom):
    p = figure(width=width, height=height, x_range=Range1d(87.75, 108.2),
               y_range=Range1d(-80, 0), output_backend="svg", toolbar_location=None,
               min_border_left=left, min_border_right=right,
               min_border_top=top, min_border_bottom=bottom)
    p.background_fill_color = "#f0f0f0"
    p.border_fill_color = "white"
    p.outline_line_color = TXT
    p.outline_line_width = 1

    xax = p.below[0]
    yax = p.left[0]
    xax.ticker = FixedTicker(ticks=freq_ticks)
    yax.ticker = FixedTicker(ticks=dbm_ticks, minor_ticks=dbm_minor)
    style_axis(xax)
    style_axis(yax)
    xax.major_label_text_font_size = "17px"
    xax.axis_label = "Frequency (MHz)"
    xax.axis_label_text_font_size = "18px"
    xax.major_label_standoff = 8
    xax.axis_label_standoff = 1
    yax.axis_label = "dBm"
    yax.axis_label_text_font_size = "18px"
    yax.major_label_standoff = 4
    yax.axis_label_standoff = 1
    yax.major_label_overrides = dbm_labels

    p.xgrid.grid_line_color = "#b8b8b8"
    p.xgrid.grid_line_dash = "1 3"
    p.ygrid.grid_line_color = "#b8b8b8"
    p.ygrid.grid_line_dash = "1 3"
    p.ygrid.minor_grid_line_color = "#b8b8b8"
    p.ygrid.minor_grid_line_dash = "1 3"

    # box-style ticks on the top and right edges (no labels)
    p.add_layout(box_axis(FixedTicker(ticks=freq_ticks)), "above")
    p.add_layout(box_axis(FixedTicker(ticks=dbm_ticks, minor_ticks=dbm_minor)), "right")

    p.title = Title(text=title, align="left", offset=title_offset, text_font=FONT,
                    text_font_size="18px", text_font_style="normal", text_color=TXT,
                    vertical_align="top", standoff=12)

    fx, fy = zip(*fbmc)
    mx, my = zip(*fm)
    p.line(list(fx), list(fy), color=BLUE, line_width=1.3)
    p.line(list(mx), list(my), color=ORANGE, line_width=1.3)
    return p


TOP_H, BOT_H = 287, 245
LEFT_W, RIGHT_W = 660, 680

p1 = make_panel(titles[0], 101, perth_fbmc, perth_fm, LEFT_W, TOP_H, 57, 15, 35, 89)
p2 = make_panel(titles[1], 162, ayr_fbmc, ayr_fm, RIGHT_W, TOP_H, 70, 22, 35, 89)
p3 = make_panel(titles[2], 97, dunblane_fbmc, dunblane_fm, LEFT_W, BOT_H, 57, 15, 35, 46)
p4 = make_panel(titles[3], 128, aberfoyle_fbmc, aberfoyle_fm, RIGHT_W, BOT_H, 70, 22, 35, 46)

# transparent overlay carrying the shared legend (its frame aligns with the panels' frames)
ov = figure(width=LEFT_W + RIGHT_W, height=TOP_H + BOT_H, x_range=Range1d(0, 1),
            y_range=Range1d(0, 1), output_backend="svg", toolbar_location=None,
            x_axis_location=None, y_axis_location=None, min_border=0)
ov.background_fill_alpha = 0
ov.border_fill_alpha = 0
ov.outline_line_color = None
ov.xgrid.visible = False
ov.ygrid.visible = False
ov.grid.grid_line_color = None
bx, by = zip(*perth_fbmc)
ox, oy = zip(*perth_fm)
rb = ov.line(x=list(bx), y=list(by), color=BLUE, line_width=2)
ro = ov.line(x=list(ox), y=list(oy), color=ORANGE, line_width=2)
legend = Legend(items=[LegendItem(label=series_names[0], renderers=[rb]),
                       LegendItem(label=series_names[1], renderers=[ro])],
                location=(523, 193), label_text_font=FONT, label_text_font_size="18.5px",
                label_text_color=TXT, glyph_width=29, glyph_height=20, label_standoff=8,
                label_width=160, padding=8, spacing=1, margin=0,
                border_line_color=TXT, border_line_alpha=1, border_line_width=1,
                background_fill_color="white", background_fill_alpha=1)
ov.add_layout(legend, "center")

grid = GridBox(children=[(p1, 0, 0), (p2, 0, 1), (p3, 1, 0), (p4, 1, 1), (ov, 0, 0, 2, 2)],
               rows=["%dpx" % TOP_H, "%dpx" % BOT_H],
               cols=["%dpx" % LEFT_W, "%dpx" % RIGHT_W])

open("out.html", "w").write(file_html(grid, INLINE))
